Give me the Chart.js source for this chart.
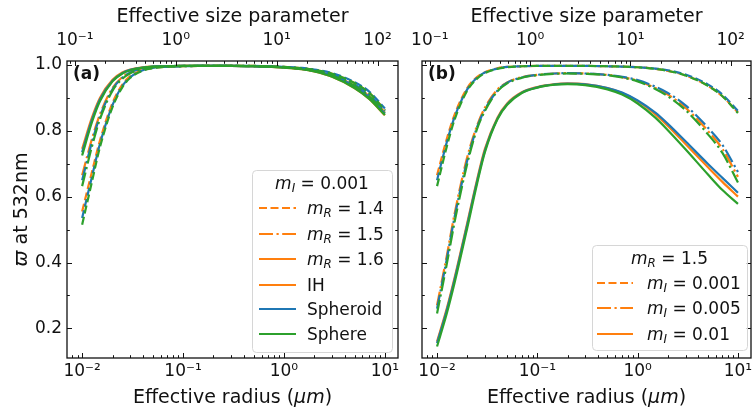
<!DOCTYPE html>
<html>
<head>
<meta charset="utf-8">
<script src="https://cdn.jsdelivr.net/npm/chart.js@4.4.0/dist/chart.umd.min.js"></script>
<style>
  html, body { margin: 0; padding: 0; background: #fff; overflow: hidden; }
  #wrap { position: relative; width: 752px; height: 412px; overflow: hidden; }
  canvas { position: absolute; top: 0; }
  #chart-a { left: 0; }
  #chart-b { left: 400px; }
</style>
</head>
<body>
<div id="wrap">
  <canvas id="chart-a" width="410" height="412"></canvas>
  <canvas id="chart-b" width="370" height="412"></canvas>
</div>
<script>
// effective radius (µm) sampled along every curve
const RADIUS = [0.01, 0.0125, 0.015, 0.02, 0.025, 0.03, 0.04, 0.05, 0.07, 0.1, 0.15,
                0.2, 0.3, 0.5, 0.7, 1, 1.5, 2, 3, 5, 7, 10];

// (a) m_I = 0.001, three real parts
const A14_IH  = [0.555, 0.675, 0.77, 0.885, 0.94, 0.966, 0.985, 0.991, 0.995, 0.996, 0.997, 0.997, 0.997, 0.997, 0.996, 0.994, 0.990, 0.985, 0.973, 0.945, 0.915, 0.864];
const A14_SPD = [0.535, 0.66, 0.76, 0.878, 0.936, 0.963, 0.984, 0.991, 0.995, 0.996, 0.997, 0.997, 0.997, 0.997, 0.996, 0.994, 0.991, 0.986, 0.975, 0.948, 0.919, 0.868];
const A14_SPH = [0.515, 0.645, 0.75, 0.872, 0.932, 0.961, 0.983, 0.990, 0.995, 0.996, 0.997, 0.997, 0.997, 0.997, 0.996, 0.994, 0.990, 0.985, 0.973, 0.945, 0.915, 0.862];

const A15_IH  = [0.665, 0.775, 0.85, 0.93, 0.963, 0.978, 0.990, 0.994, 0.996, 0.997, 0.997, 0.997, 0.997, 0.996, 0.995, 0.993, 0.988, 0.982, 0.968, 0.937, 0.905, 0.856];
const A15_SPD = [0.65, 0.765, 0.843, 0.926, 0.961, 0.977, 0.989, 0.994, 0.996, 0.997, 0.997, 0.997, 0.997, 0.996, 0.995, 0.993, 0.989, 0.984, 0.971, 0.941, 0.910, 0.860];
const A15_SPH = [0.632, 0.752, 0.835, 0.922, 0.958, 0.975, 0.988, 0.993, 0.996, 0.997, 0.997, 0.997, 0.997, 0.996, 0.995, 0.993, 0.988, 0.982, 0.968, 0.937, 0.905, 0.854];

const A16_IH  = [0.745, 0.84, 0.90, 0.955, 0.977, 0.986, 0.993, 0.995, 0.996, 0.997, 0.997, 0.997, 0.997, 0.996, 0.995, 0.992, 0.987, 0.980, 0.964, 0.930, 0.897, 0.847];
const A16_SPD = [0.735, 0.833, 0.895, 0.952, 0.975, 0.985, 0.992, 0.995, 0.996, 0.997, 0.997, 0.997, 0.997, 0.996, 0.995, 0.993, 0.988, 0.982, 0.967, 0.935, 0.902, 0.852];
const A16_SPH = [0.725, 0.826, 0.89, 0.95, 0.974, 0.984, 0.992, 0.995, 0.996, 0.997, 0.997, 0.997, 0.997, 0.996, 0.995, 0.992, 0.987, 0.980, 0.964, 0.930, 0.897, 0.848];

// (b) m_R = 1.5; m_I = 0.001 is the same as the m_R = 1.5 curves of (a)
const B005_IH  = [0.27, 0.42, 0.55, 0.72, 0.815, 0.87, 0.925, 0.947, 0.963, 0.970, 0.974, 0.975, 0.974, 0.970, 0.963, 0.952, 0.930, 0.910, 0.870, 0.800, 0.745, 0.660];
const B005_SPD = [0.26, 0.41, 0.54, 0.71, 0.81, 0.865, 0.922, 0.946, 0.962, 0.970, 0.974, 0.975, 0.974, 0.970, 0.964, 0.954, 0.934, 0.915, 0.877, 0.810, 0.757, 0.675];
const B005_SPH = [0.245, 0.395, 0.525, 0.70, 0.805, 0.86, 0.92, 0.944, 0.961, 0.969, 0.973, 0.974, 0.973, 0.969, 0.962, 0.950, 0.927, 0.905, 0.863, 0.790, 0.733, 0.643];

const B01_IH  = [0.16, 0.26, 0.355, 0.52, 0.65, 0.745, 0.84, 0.883, 0.917, 0.933, 0.942, 0.944, 0.942, 0.930, 0.915, 0.890, 0.850, 0.815, 0.760, 0.690, 0.645, 0.600];
const B01_SPD = [0.155, 0.255, 0.35, 0.515, 0.645, 0.74, 0.837, 0.881, 0.916, 0.932, 0.941, 0.943, 0.941, 0.930, 0.916, 0.892, 0.855, 0.821, 0.768, 0.700, 0.657, 0.612];
const B01_SPH = [0.145, 0.245, 0.34, 0.505, 0.638, 0.735, 0.835, 0.879, 0.915, 0.931, 0.940, 0.942, 0.939, 0.926, 0.910, 0.883, 0.840, 0.802, 0.744, 0.668, 0.620, 0.578];

const X_TICKS = [0.01, 0.1, 1, 10];
const TOP_TICKS = [0.1, 1, 10, 100];
const Y_TICKS = [0.2, 0.4, 0.6, 0.8, 1.0];
const Y_MINOR = [0.3, 0.5, 0.7, 0.9];
const X_MIN = Math.pow(10, -2.15), X_MAX = Math.pow(10, 1.13);
const Y_MIN = 0.11, Y_MAX = 1.012;
const SIZE_PER_UM = 2 * Math.PI / 0.532; // size parameter per µm radius at 532 nm

const ORANGE = "#ff7f0e", BLUE = "#1f77b4", GREEN = "#2ca02c";
const DASHED = [8, 3.5], DASHDOT = [14, 3.5, 2.2, 3.5], SOLID = [];
const FONT = "DejaVu Sans";

const SUP = { "-": "\u207b", "0": "\u2070", "1": "\u00b9", "2": "\u00b2", "3": "\u00b3" };
function pow10(v) {
  const n = String(Math.round(Math.log10(v)));
  return "10" + [...n].map(c => SUP[c]).join("");
}

function series(values, color, dash, order) {
  return {
    data: RADIUS.map((r, i) => ({ x: r, y: values[i] })),
    borderColor: color,
    borderDash: dash,
    borderWidth: 2.2,
    pointRadius: 0,
    cubicInterpolationMode: "monotone",
    fill: false,
    order,
  };
}
function shapeTriplet(ih, spd, sph, dash) {
  return [series(ih, ORANGE, dash, 2), series(spd, BLUE, dash, 1), series(sph, GREEN, dash, 0)];
}

// rich text: parts = [{t, it, sub, bold}]
function rich(ctx, x, y, parts, size, align) {
  const f = p => `${p.it ? "italic " : ""}${p.bold ? "bold " : ""}${p.sub ? size * 0.7 : size}px "${FONT}"`;
  let w = 0;
  for (const p of parts) { ctx.font = f(p); w += ctx.measureText(p.t).width; }
  let cx = align === "center" ? x - w / 2 : x;
  for (const p of parts) {
    ctx.font = f(p);
    ctx.fillText(p.t, cx, y + (p.sub ? size * 0.22 : 0));
    cx += ctx.measureText(p.t).width;
  }
}
const mI = v => [{ t: "m", it: true }, { t: "I", it: true, sub: true }, { t: " = " + v }];
const mR = v => [{ t: "m", it: true }, { t: "R", it: true, sub: true }, { t: " = " + v }];

const deco = {
  id: "deco",
  afterDraw(chart, args, o) {
    const { ctx, chartArea: a, scales } = chart;
    ctx.save();
    ctx.strokeStyle = "#111";
    ctx.fillStyle = "#111";
    ctx.lineWidth = 1;
    const tick = (x0, y0, x1, y1) => { ctx.beginPath(); ctx.moveTo(x0, y0); ctx.lineTo(x1, y1); ctx.stroke(); };
    // log ticks, bottom (radius) and top (size parameter), pointing inward
    for (const [sc, edge, dir] of [[scales.x, a.bottom, -1], [scales.x2, a.top, 1]]) {
      for (let n = -3; n <= 3; n++) {
        for (let k = 1; k <= 9; k++) {
          const v = k * Math.pow(10, n);
          if (v < sc.min || v > sc.max) continue;
          const px = Math.round(sc.getPixelForValue(v)) + 0.5;
          tick(px, edge, px, edge + dir * (k === 1 ? 5 : 2.8));
        }
      }
    }
    for (const v of Y_TICKS.concat(Y_MINOR)) {
      const py = Math.round(scales.y.getPixelForValue(v)) + 0.5;
      const len = Y_TICKS.includes(v) ? 5 : 2.8;
      tick(a.left, py, a.left + len, py);
      tick(a.right, py, a.right - len, py);
    }
    ctx.lineWidth = 1.3;
    ctx.strokeRect(a.left, a.top, a.right - a.left, a.bottom - a.top);

    // axis titles
    const cx = (a.left + a.right) / 2;
    ctx.textAlign = "left";
    ctx.textBaseline = "alphabetic";
    rich(ctx, cx, 22, [{ t: "Effective size parameter" }], 19, "center");
    rich(ctx, cx, 403, [{ t: "Effective radius (" }, { t: "\u03bcm", it: true }, { t: ")" }], 19, "center");
    if (o.yTitle) {
      ctx.save();
      ctx.translate(27, (a.top + a.bottom) / 2);
      ctx.rotate(-Math.PI / 2);
      rich(ctx, 0, 0, [{ t: "\u03d6", it: true }, { t: " at 532nm" }], 19, "center");
      ctx.restore();
    }
    // panel letter
    rich(ctx, a.left + 6, 79, [{ t: o.letter, bold: true }], 17, "left");

    // legend
    const L = o.legend;
    const [bx0, by0, bx1, by1] = L.box;
    ctx.beginPath();
    ctx.roundRect(bx0 + 0.5, by0 + 0.5, bx1 - bx0, by1 - by0, 4);
    ctx.fillStyle = "rgba(255,255,255,0.8)";
    ctx.fill();
    ctx.strokeStyle = "#d6d6d6";
    ctx.lineWidth = 1;
    ctx.stroke();
    ctx.fillStyle = "#111";
    rich(ctx, (bx0 + bx1) / 2, L.titleY + 5.5, L.title, 17, "center");
    L.rows.forEach((row, i) => {
      const y = L.rowY[i];
      ctx.beginPath();
      ctx.setLineDash(row.dash);
      ctx.strokeStyle = row.color;
      ctx.lineWidth = 2.2;
      ctx.moveTo(L.lineX[0], y);
      ctx.lineTo(L.lineX[1], y);
      ctx.stroke();
      ctx.setLineDash([]);
      ctx.fillStyle = "#111";
      rich(ctx, L.textX, y + 5.5, row.parts, 17, "left");
    });
    ctx.restore();
  },
};

function makePanel(id, cfg) {
  const tickFont = { family: FONT, size: 17 };
  const noPad = s => { s.paddingLeft = 0; s.paddingRight = 0; s.paddingTop = 0; s.paddingBottom = 0; };
  return new Chart(document.getElementById(id), {
    type: "line",
    data: { datasets: cfg.datasets },
    options: {
      responsive: false,
      animation: false,
      events: [],
      layout: { padding: { left: 0, right: cfg.padRight, top: 0, bottom: 0 } },
      plugins: { legend: { display: false }, tooltip: { enabled: false }, deco: cfg.deco },
      scales: {
        x: {
          type: "logarithmic", position: "bottom", min: X_MIN, max: X_MAX,
          grid: { display: false, drawTicks: false }, border: { display: false },
          afterBuildTicks: s => { s.ticks = X_TICKS.map(v => ({ value: v })); },
          afterFit: s => { s.height = 412 - 358; noPad(s); },
          ticks: { callback: v => pow10(v), font: tickFont, color: "#111", padding: 3, maxRotation: 0, autoSkip: false },
        },
        x2: {
          type: "logarithmic", position: "top", min: X_MIN * SIZE_PER_UM, max: X_MAX * SIZE_PER_UM,
          grid: { display: false, drawTicks: false }, border: { display: false },
          afterBuildTicks: s => { s.ticks = TOP_TICKS.map(v => ({ value: v })); },
          afterFit: s => { s.height = 61; noPad(s); },
          ticks: { callback: v => pow10(v), font: tickFont, color: "#111", padding: 10, maxRotation: 0, autoSkip: false },
        },
        y: {
          type: "linear", position: "left", min: Y_MIN, max: Y_MAX,
          grid: { display: false, drawTicks: false }, border: { display: false },
          afterBuildTicks: s => { s.ticks = Y_TICKS.map(v => ({ value: v })); },
          afterFit: s => { s.width = cfg.yWidth; noPad(s); },
          ticks: { display: cfg.yLabels, callback: v => v.toFixed(1), font: tickFont, color: "#111", padding: 5 },
        },
      },
    },
    plugins: [deco],
  });
}

const ROWS_Y = [208, 234, 259, 285, 309, 334];

makePanel("chart-a", {
  yWidth: 67, padRight: 12, yLabels: true,
  datasets: [
    ...shapeTriplet(A14_IH, A14_SPD, A14_SPH, DASHED),
    ...shapeTriplet(A15_IH, A15_SPD, A15_SPH, DASHDOT),
    ...shapeTriplet(A16_IH, A16_SPD, A16_SPH, SOLID),
  ],
  deco: {
    letter: "(a)", yTitle: true,
    legend: {
      box: [252, 170, 392, 352], titleY: 183, rowY: ROWS_Y, lineX: [259, 296], textX: 307,
      title: mI("0.001"),
      rows: [
        { color: ORANGE, dash: DASHED, parts: mR("1.4") },
        { color: ORANGE, dash: DASHDOT, parts: mR("1.5") },
        { color: ORANGE, dash: SOLID, parts: mR("1.6") },
        { color: ORANGE, dash: SOLID, parts: [{ t: "IH" }] },
        { color: BLUE, dash: SOLID, parts: [{ t: "Spheroid" }] },
        { color: GREEN, dash: SOLID, parts: [{ t: "Sphere" }] },
      ],
    },
  },
});

makePanel("chart-b", {
  yWidth: 22, padRight: 19, yLabels: false,
  datasets: [
    ...shapeTriplet(A15_IH, A15_SPD, A15_SPH, DASHED),
    ...shapeTriplet(B005_IH, B005_SPD, B005_SPH, DASHDOT),
    ...shapeTriplet(B01_IH, B01_SPD, B01_SPH, SOLID),
  ],
  deco: {
    letter: "(b)", yTitle: false,
    legend: {
      box: [192, 245, 347, 350], titleY: 258, rowY: [283, 308, 334], lineX: [197, 233], textX: 247,
      title: mR("1.5"),
      rows: [
        { color: ORANGE, dash: DASHED, parts: mI("0.001") },
        { color: ORANGE, dash: DASHDOT, parts: mI("0.005") },
        { color: ORANGE, dash: SOLID, parts: mI("0.01") },
      ],
    },
  },
});
</script>
</body>
</html>
